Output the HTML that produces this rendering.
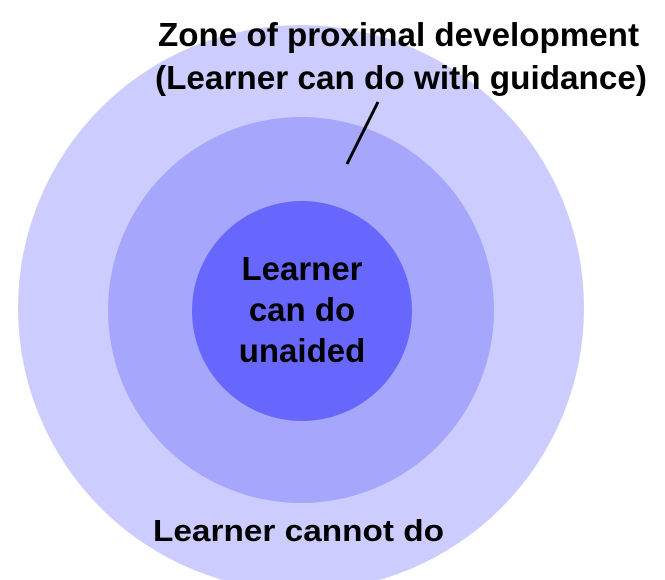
<!DOCTYPE html>
<html><head><style>html,body{margin:0;padding:0;background:#fff}</style></head>
<body>
<svg width="665" height="580" viewBox="0 0 665 580" xmlns="http://www.w3.org/2000/svg" style="display:block">
<circle cx="301" cy="308" r="283" fill="#ccccfe"/>
<circle cx="301" cy="310" r="193" fill="#a6a6fd"/>
<circle cx="302" cy="311" r="110" fill="#6767fe"/>
<line x1="378" y1="102" x2="347" y2="164" stroke="#000" stroke-width="3"/>
<g font-family="Liberation Sans, Arial, sans-serif" font-weight="bold" fill="#000">
<text x="158" y="46" font-size="33" textLength="481" lengthAdjust="spacingAndGlyphs">Zone of proximal development</text>
<text x="155" y="89" font-size="33" textLength="492" lengthAdjust="spacingAndGlyphs">(Learner can do with guidance)</text>
<text x="302" y="280" font-size="33" text-anchor="middle">Learner</text>
<text x="302" y="321" font-size="33" text-anchor="middle">can do</text>
<text x="302" y="362" font-size="33" text-anchor="middle">unaided</text>
<text x="153" y="541" font-size="31" textLength="291" lengthAdjust="spacingAndGlyphs">Learner cannot do</text>
</g>
</svg>
</body></html>
